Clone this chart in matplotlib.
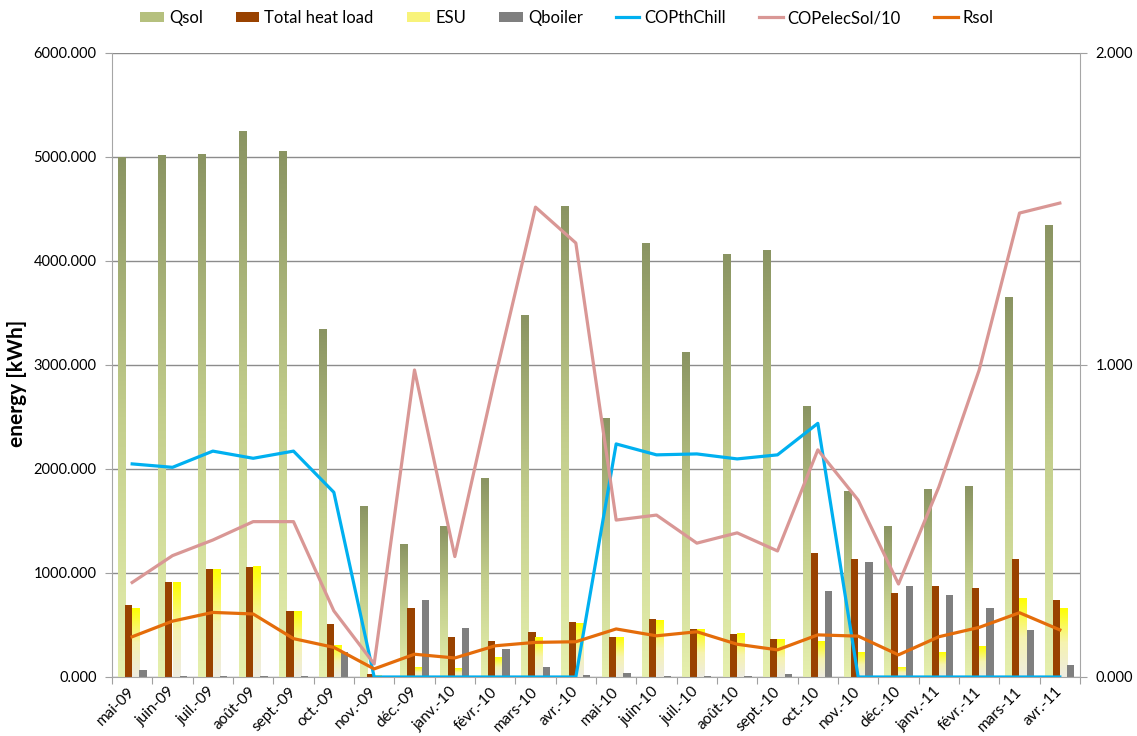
import matplotlib
matplotlib.use('Agg')
import matplotlib.pyplot as plt
import numpy as np
from matplotlib.colors import LinearSegmentedColormap
from matplotlib.patches import Patch
from matplotlib.lines import Line2D

plt.rcParams['font.family'] = ['Lato', 'DejaVu Sans']

months = ['mai-09', 'juin-09', 'juil.-09', 'août-09', 'sept.-09', 'oct.-09', 'nov.-09',
          'déc.-09', 'janv.-10', 'févr.-10', 'mars-10', 'avr.-10', 'mai-10', 'juin-10',
          'juil.-10', 'août-10', 'sept.-10', 'oct.-10', 'nov.-10', 'déc.-10', 'janv.-11',
          'févr.-11', 'mars-11', 'avr.-11']

qsol = [5000, 5010, 5020, 5250, 5050, 3340, 1640, 1270, 1445, 1905, 3480, 4525,
        2490, 4170, 3122, 4058, 4098, 2600, 1785, 1445, 1805, 1828, 3652, 4338]
heat_load = [690, 910, 1040, 1060, 630, 505, 32, 665, 380, 345, 430, 532,
             381, 558, 458, 417, 362, 1190, 1133, 806, 878, 859, 1131, 737]
esu = [654, 907, 1038, 1058, 628, 305, 15, 90, 80, 186, 381, 519,
       381, 548, 455, 417, 356, 346, 240, 96, 231, 298, 757, 654]
qboiler = [64, 10, 10, 10, 10, 240, 3, 737, 474, 269, 99, 18,
           35, 8, 8, 8, 26, 829, 1105, 876, 785, 663, 449, 115]

cop_th_chill = [0.683, 0.672, 0.724, 0.701, 0.724, 0.592, 0, 0, 0, 0, 0, 0,
                0.747, 0.712, 0.715, 0.699, 0.712, 0.813, 0, 0, 0, 0, 0, 0]
cop_elec_sol = [0.303, 0.389, 0.439, 0.498, 0.498, 0.212, 0.042, 0.984, 0.386, 0.96, 1.506, 1.391,
                0.503, 0.519, 0.429, 0.462, 0.404, 0.728, 0.567, 0.298, 0.609, 0.984, 1.487, 1.519]
rsol = [0.129, 0.179, 0.207, 0.202, 0.123, 0.095, 0.026, 0.073, 0.061, 0.100, 0.111, 0.113,
        0.154, 0.132, 0.145, 0.105, 0.087, 0.135, 0.131, 0.071, 0.129, 0.159, 0.206, 0.151]

y_ticks_left = [0, 1000, 2000, 3000, 4000, 5000, 6000]
y_ticks_right = [0, 1, 2]

fig = plt.figure(figsize=(11.37, 7.36), dpi=100)
ax = fig.add_axes([112 / 1137, 1 - 677 / 736, (1080 - 112) / 1137, (677 - 53) / 736])

n = len(months)
x = np.arange(n)
w = 0.18

cmap_q = LinearSegmentedColormap.from_list('q', ['#E6F0AE', '#C3CE8C', '#8A9462'])
cmap_e = LinearSegmentedColormap.from_list('e', ['#EEECE1', '#F6F3B0', '#FFFF00'])
grad = np.linspace(0, 1, 256).reshape(-1, 1)


def gradient_bars(bars, cmap):
    for r in bars:
        x0, y0, bw, bh = r.get_x(), r.get_y(), r.get_width(), r.get_height()
        if bh <= 0:
            continue
        ax.imshow(grad, cmap=cmap, origin='lower', aspect='auto',
                  extent=[x0, x0 + bw, y0, y0 + bh], zorder=2, interpolation='bilinear')


b_q = ax.bar(x - 0.27, qsol, w, color='none', zorder=2)
gradient_bars(b_q, cmap_q)
ax.bar(x - 0.09, heat_load, w, color='#994200', zorder=2)
b_e = ax.bar(x + 0.09, esu, w, color='none', zorder=2)
gradient_bars(b_e, cmap_e)
ax.bar(x + 0.27, qboiler, w, color='#7F7F7F', zorder=2)

ax.set_xlim(-0.5, n - 0.5)
ax.set_ylim(0, 6000)
ax.set_yticks(y_ticks_left)
ax.set_yticklabels([f'{v:.3f}' for v in y_ticks_left])
ax.yaxis.grid(True, color='#8C8C8C', lw=1)
ax.set_axisbelow(True)

ax.set_xticks(np.arange(-0.5, n, 1))
ax.set_xticklabels([])
ax.set_xticks(x, minor=True)
ax.set_xticklabels(months, minor=True, rotation=45, ha='right', va='center',
                   rotation_mode='anchor', fontsize=11)
ax.tick_params(axis='x', which='major', length=5, color='#A0A0A0', direction='out')
ax.tick_params(axis='x', which='minor', length=0, pad=9)
ax.tick_params(axis='y', length=5, color='#A0A0A0', labelsize=10.5, pad=6)

for s in ['top', 'right']:
    ax.spines[s].set_visible(False)
for s in ['left', 'bottom']:
    ax.spines[s].set_color('#A6A6A6')

ax2 = ax.twinx()
ax2.plot(x, cop_th_chill, color='#00B0F0', lw=2.3)
ax2.plot(x, cop_elec_sol, color='#D99795', lw=2.3)
ax2.plot(x, rsol, color='#E46C0A', lw=2.3)
ax2.set_ylim(0, 2)
ax2.set_yticks(y_ticks_right)
ax2.set_yticklabels([f'{v:.3f}' for v in y_ticks_right])
ax2.tick_params(axis='y', length=5, color='#A0A0A0', labelsize=10.5, pad=6)
for s in ['top', 'left', 'bottom']:
    ax2.spines[s].set_visible(False)
ax2.spines['right'].set_color('#A6A6A6')

fig.text(17 / 1137, 1 - 383 / 736, 'energy [kWh]', rotation=90, fontsize=15,
         fontweight='bold', ha='center', va='center')

handles = [Patch(facecolor='#B5C07E'), Patch(facecolor='#994200'),
           Patch(facecolor='#F8F37A'), Patch(facecolor='#7F7F7F'),
           Line2D([], [], color='#00B0F0', lw=2.3), Line2D([], [], color='#D99795', lw=2.3),
           Line2D([], [], color='#E46C0A', lw=2.3)]
labels = ['Qsol', 'Total heat load', 'ESU', 'Qboiler', 'COPthChill', 'COPelecSol/10', 'Rsol']
fig.legend(handles, labels, loc='center', bbox_to_anchor=(567 / 1137, 1 - 18 / 736), ncol=7,
           frameon=False, fontsize=12, handlelength=1.4, handleheight=0.6,
           columnspacing=2.0, handletextpad=0.3)

fig.savefig('out.png', dpi=100)
